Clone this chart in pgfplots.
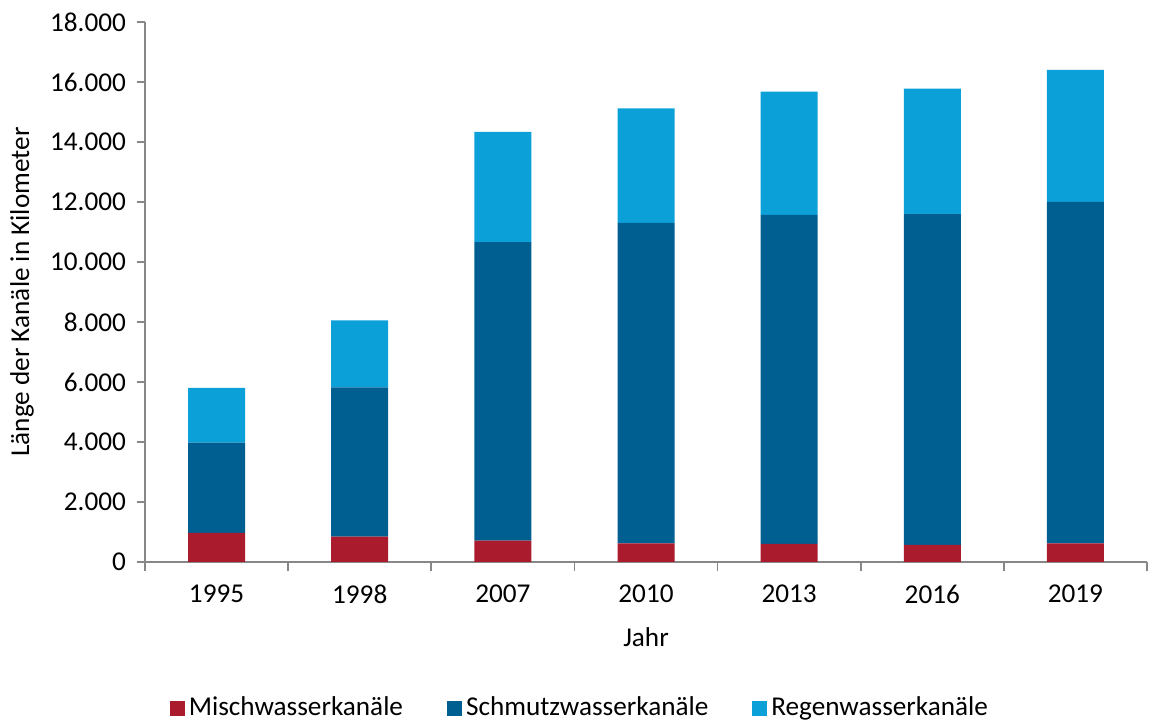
\documentclass[border=0pt]{standalone}
\usepackage{fontspec}
\setmainfont{Carlito}
\usepackage{pgfplots}
\pgfplotsset{compat=1.18}
\definecolor{mred}{HTML}{AA1B2E}
\definecolor{dblue}{HTML}{005F91}
\definecolor{lblue}{HTML}{0CA0D8}
\definecolor{axgray}{HTML}{878787}
\newcommand{\fsz}{\fontsize{13.6pt}{15.5pt}\selectfont}
\begin{document}
\begin{tikzpicture}
\useasboundingbox (-72.5pt,-80pt) rectangle (503pt,281pt);
\begin{axis}[
  at={(0,0)}, anchor=south west,
  scale only axis, width=501pt, height=270pt,
  ybar stacked, bar width=28.5pt,
  xmin=-0.5, xmax=6.5, ymin=0, ymax=18000,
  xtick={0,1,2,3,4,5,6},
  xticklabels={1995,1998,2007,2010,2013,2016,2019},
  minor xtick={-0.5,0.5,1.5,2.5,3.5,4.5,5.5,6.5},
  ytick={0,2000,...,18000},
  major x tick style={draw=none},
  minor tick length=4.5pt, major tick length=4pt,
  tick align=outside,
  every tick/.style={axgray, line width=0.8pt},
  axis x line*=bottom, axis y line*=left,
  axis line style={axgray, line width=0.8pt, -},
  scaled y ticks=false,
  /pgf/number format/.cd, fixed, precision=0, 1000 sep={.}, assume math mode=true, /pgfplots/.cd,
  tick label style={font=\fsz, black},
  xticklabel style={yshift=-4pt},
  yticklabel style={xshift=-2pt},
  xlabel={Jahr}, ylabel={Länge der Kanäle in Kilometer},
  every axis x label/.style={at={(axis description cs:0.5,0)}, yshift=-37.5pt, anchor=center, font=\fsz},
  every axis y label/.style={at={(axis description cs:0,0.5)}, xshift=-61.5pt, rotate=90, anchor=center, font=\fsz},
  legend columns=3,
  legend style={at={(axis description cs:0.435,0)}, yshift=-73pt, anchor=center, draw=none, font=\fsz,
    /tikz/every even column/.append style={column sep=20pt}},
  legend image code/.code={\fill[#1,draw=none] (0pt,-3.75pt) rectangle (7.5pt,3.75pt);},
]
\addplot[fill=mred, draw=none] coordinates {(0,967) (1,843) (2,710) (3,623) (4,600) (5,567) (6,623)};
\addplot[fill=dblue, draw=none] coordinates {(0,3016) (1,4974) (2,9950) (3,10684) (4,10973) (5,11026) (6,11384)};
\addplot[fill=lblue, draw=none] coordinates {(0,1824) (1,2233) (2,3680) (3,3810) (4,4110) (5,4190) (6,4400)};
\legend{Mischwasserkanäle, Schmutzwasserkanäle, Regenwasserkanäle}
\end{axis}
\end{tikzpicture}
\end{document}
